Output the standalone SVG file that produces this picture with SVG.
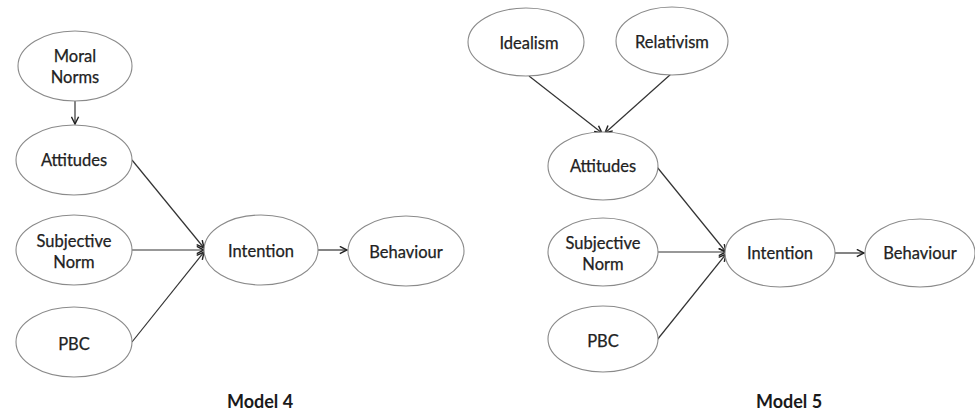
<svg xmlns="http://www.w3.org/2000/svg" width="975" height="411" viewBox="0 0 975 411">
  <defs>
    <marker id="arrow" viewBox="0 0 10 10" refX="9" refY="5" markerWidth="9" markerHeight="9" markerUnits="userSpaceOnUse" orient="auto">
      <path d="M1,1 L9,5 L1,9" fill="none" stroke="#222" stroke-width="1.6"/>
    </marker>
    <style>
      .node ellipse { fill: #fff; stroke: #8a8a8a; stroke-width: 1.1; }
      .node text { font-family: "Lato", "Liberation Sans", sans-serif; font-size: 16.5px; fill: #222; stroke: #222; stroke-width: 0.25; text-anchor: middle; }
      .edges line { stroke: #333; stroke-width: 1.2; marker-end: url(#arrow); }
      .title { font-family: "Lato", "Liberation Sans", sans-serif; font-size: 18px; font-weight: bold; fill: #1a1a1a; text-anchor: middle; }
    </style>
  </defs>
  <rect width="975" height="411" fill="#fff"/>

  <!-- Model 4 -->
  <g class="edges" id="m4-edges">
    <line x1="75" y1="101" x2="75" y2="124"/>
    <line x1="132" y1="160" x2="204" y2="248"/>
    <line x1="132" y1="250" x2="204" y2="250"/>
    <line x1="132" y1="342" x2="204" y2="252"/>
    <line x1="318" y1="250" x2="347" y2="250"/>
  </g>
  <g class="node" id="m4-moral-norms">
    <ellipse cx="75" cy="66" rx="57" ry="35"/>
    <text x="75" y="62">Moral</text>
    <text x="75" y="83">Norms</text>
  </g>
  <g class="node" id="m4-attitudes">
    <ellipse cx="74" cy="160" rx="58" ry="35"/>
    <text x="74" y="166">Attitudes</text>
  </g>
  <g class="node" id="m4-subjective-norm">
    <ellipse cx="74" cy="250" rx="58" ry="35"/>
    <text x="74" y="247">Subjective</text>
    <text x="74" y="268">Norm</text>
  </g>
  <g class="node" id="m4-pbc">
    <ellipse cx="74" cy="342" rx="58" ry="35"/>
    <text x="74" y="350">PBC</text>
  </g>
  <g class="node" id="m4-intention">
    <ellipse cx="261" cy="250" rx="57" ry="35"/>
    <text x="261" y="257">Intention</text>
  </g>
  <g class="node" id="m4-behaviour">
    <ellipse cx="406" cy="251" rx="58" ry="35"/>
    <text x="406" y="258">Behaviour</text>
  </g>
  <text class="title" x="260" y="408">Model 4</text>

  <!-- Model 5 -->
  <g class="edges" id="m5-edges">
    <line x1="529" y1="76" x2="602" y2="133"/>
    <line x1="671" y1="74" x2="605" y2="133"/>
    <line x1="657" y1="167" x2="726" y2="252"/>
    <line x1="657" y1="252" x2="726" y2="252"/>
    <line x1="657" y1="340" x2="726" y2="254"/>
    <line x1="835" y1="253" x2="864" y2="253"/>
  </g>
  <g class="node" id="m5-idealism">
    <ellipse cx="526" cy="42" rx="58" ry="34"/>
    <text x="529" y="49">Idealism</text>
  </g>
  <g class="node" id="m5-relativism">
    <ellipse cx="672" cy="41" rx="56" ry="34"/>
    <text x="672" y="48">Relativism</text>
  </g>
  <g class="node" id="m5-attitudes">
    <ellipse cx="603" cy="166" rx="55" ry="34"/>
    <text x="603" y="172">Attitudes</text>
  </g>
  <g class="node" id="m5-subjective-norm">
    <ellipse cx="603" cy="252" rx="55" ry="34"/>
    <text x="603" y="249">Subjective</text>
    <text x="603" y="270">Norm</text>
  </g>
  <g class="node" id="m5-pbc">
    <ellipse cx="603" cy="339" rx="55" ry="33"/>
    <text x="603" y="347">PBC</text>
  </g>
  <g class="node" id="m5-intention">
    <ellipse cx="780" cy="253" rx="55" ry="34"/>
    <text x="780" y="259">Intention</text>
  </g>
  <g class="node" id="m5-behaviour">
    <ellipse cx="920" cy="253" rx="55" ry="34"/>
    <text x="920" y="259">Behaviour</text>
  </g>
  <text class="title" x="789" y="408">Model 5</text>
</svg>
